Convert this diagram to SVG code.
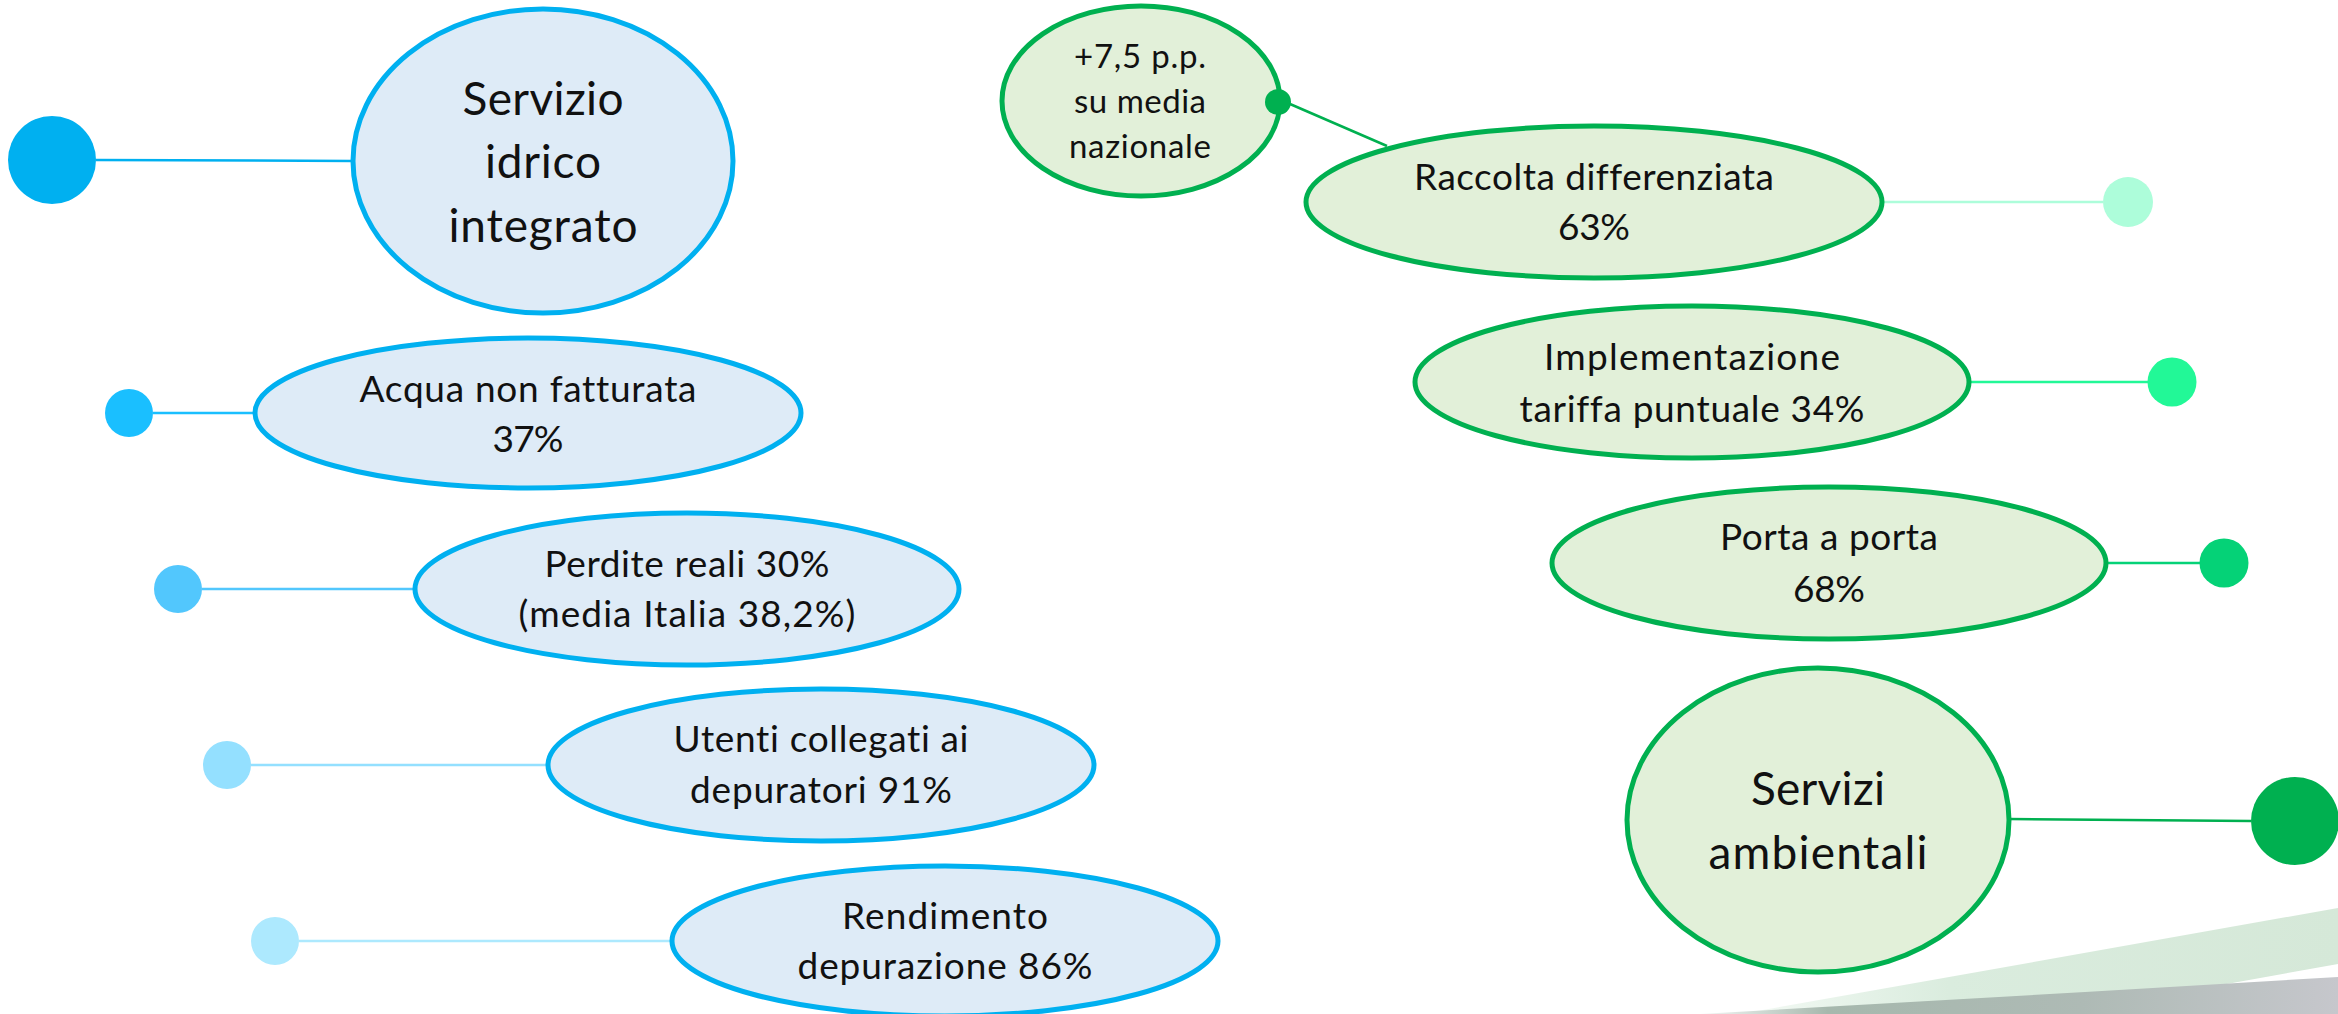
<svg xmlns="http://www.w3.org/2000/svg" width="2338" height="1014" viewBox="0 0 2338 1014">
<style>
.t{font-family:Lato,"Open Sans","Liberation Sans",sans-serif;fill:#111;text-anchor:middle;font-variant-ligatures:none;font-feature-settings:"liga" 0,"clig" 0}
.m{font-size:37px}
.b{font-size:46px}
.s{font-size:33px}
.be{fill:#DEEBF7;stroke:#00B0F0;stroke-width:5}
.ge{fill:#E2F0D9;stroke:#00B050;stroke-width:5}
.c{fill:none;stroke-width:2.5}
</style>
<defs>
<linearGradient id="gray" x1="0" y1="0" x2="1" y2="0">
<stop offset="0" stop-color="#F4F6F5"/>
<stop offset="0.2" stop-color="#A6B8AD"/>
<stop offset="0.6" stop-color="#AEBAB5"/>
<stop offset="1" stop-color="#C6C7CC"/>
</linearGradient>
<linearGradient id="lg" x1="0" y1="0" x2="1" y2="0">
<stop offset="0" stop-color="#F4FAF5"/>
<stop offset="0.35" stop-color="#DAECDE"/>
<stop offset="1" stop-color="#D5E8D8"/>
</linearGradient>
</defs>
<g id="decoration">
<polygon points="1740,1014 2338,908 2338,1014" fill="url(#lg)"/>
<polygon points="2210,987 2338,964 2338,978" fill="#FFFFFF"/>
<polygon points="1700,1014 2085,992 2338,977 2338,1014" fill="url(#gray)"/>
</g>
<g id="connectors">
<line class="c" x1="96" y1="160" x2="353" y2="161" stroke="#00B0F0" stroke-width="3"/>
<line class="c" x1="153" y1="413" x2="255" y2="413" stroke="#1ABFFF"/>
<line class="c" x1="202" y1="589" x2="415" y2="589" stroke="#52C7FD"/>
<line class="c" x1="251" y1="765" x2="548" y2="765" stroke="#94E0FF"/>
<line class="c" x1="299" y1="941" x2="672" y2="941" stroke="#ADE9FE"/>
<line class="c" x1="1290" y1="104" x2="1387" y2="146" stroke="#00B050"/>
<line class="c" x1="1882" y1="202" x2="2103" y2="202" stroke="#ADFDDA"/>
<line class="c" x1="1969" y1="382" x2="2148" y2="382" stroke="#22F897"/>
<line class="c" x1="2106" y1="563" x2="2200" y2="563" stroke="#05D277"/>
<line class="c" x1="2009" y1="819" x2="2251" y2="821" stroke="#00B050" stroke-width="3"/>
</g>
<g id="dot-sii"><circle cx="52" cy="160" r="44" fill="#00B0F0"/></g>
<g id="dot-acqua"><circle cx="129" cy="413" r="24" fill="#1ABFFF"/></g>
<g id="dot-perdite"><circle cx="178" cy="589" r="24" fill="#52C7FD"/></g>
<g id="dot-utenti"><circle cx="227" cy="765" r="24" fill="#94E0FF"/></g>
<g id="dot-rendimento"><circle cx="275" cy="941" r="24" fill="#ADE9FE"/></g>
<g id="dot-raccolta"><circle cx="2128" cy="202" r="25" fill="#ADFDDA"/></g>
<g id="dot-tariffa"><circle cx="2172" cy="382" r="24.5" fill="#22F897"/></g>
<g id="dot-porta"><circle cx="2224" cy="563" r="24.5" fill="#05D277"/></g>
<g id="dot-ambientali"><circle cx="2295" cy="821" r="44" fill="#00B050"/></g>
<g id="node-sii">
<ellipse class="be" cx="543" cy="161" rx="190" ry="152"/>
<text class="t b" x="543" y="115" textLength="161">Servizio</text>
<text class="t b" x="543" y="178" textLength="116">idrico</text>
<text class="t b" x="543" y="242" textLength="189">integrato</text>
</g>
<g id="node-acqua">
<ellipse class="be" cx="528" cy="413" rx="273" ry="75"/>
<text class="t m" x="528" y="402" textLength="337">Acqua non fatturata</text>
<text class="t m" x="528" y="452" textLength="71">37%</text>
</g>
<g id="node-perdite">
<ellipse class="be" cx="687" cy="589" rx="272" ry="76"/>
<text class="t m" x="687" y="577" textLength="285">Perdite reali 30%</text>
<text class="t m" x="687" y="627" textLength="337">(media Italia 38,2%)</text>
</g>
<g id="node-utenti">
<ellipse class="be" cx="821" cy="765" rx="273" ry="76"/>
<text class="t m" x="821" y="752" textLength="295">Utenti collegati ai</text>
<text class="t m" x="821" y="803" textLength="262">depuratori 91%</text>
</g>
<g id="node-rendimento">
<ellipse class="be" cx="945" cy="941" rx="273" ry="75"/>
<text class="t m" x="945" y="929" textLength="206">Rendimento</text>
<text class="t m" x="945" y="979" textLength="295">depurazione 86%</text>
</g>
<g id="node-media">
<ellipse class="ge" cx="1141" cy="101" rx="139" ry="95"/>
<circle cx="1278" cy="102" r="13" fill="#00B050"/>
<text class="t s" x="1140" y="68" textLength="132">+7,5 p.p.</text>
<text class="t s" x="1140" y="113" textLength="132">su media</text>
<text class="t s" x="1140" y="158" textLength="142">nazionale</text>
</g>
<g id="node-raccolta">
<ellipse class="ge" cx="1594" cy="202" rx="288" ry="76"/>
<text class="t m" x="1594" y="190" textLength="360">Raccolta differenziata</text>
<text class="t m" x="1594" y="240" textLength="72">63%</text>
</g>
<g id="node-tariffa">
<ellipse class="ge" cx="1692" cy="382" rx="277" ry="76"/>
<text class="t m" x="1692" y="370" textLength="296">Implementazione</text>
<text class="t m" x="1692" y="422" textLength="345">tariffa puntuale 34%</text>
</g>
<g id="node-porta">
<ellipse class="ge" cx="1829" cy="563" rx="277" ry="76"/>
<text class="t m" x="1829" y="550" textLength="218">Porta a porta</text>
<text class="t m" x="1829" y="602" textLength="72">68%</text>
</g>
<g id="node-ambientali">
<ellipse class="ge" cx="1818" cy="820" rx="191" ry="152"/>
<text class="t b" x="1818" y="805" textLength="134">Servizi</text>
<text class="t b" x="1818" y="869" textLength="219">ambientali</text>
</g>
</svg>
